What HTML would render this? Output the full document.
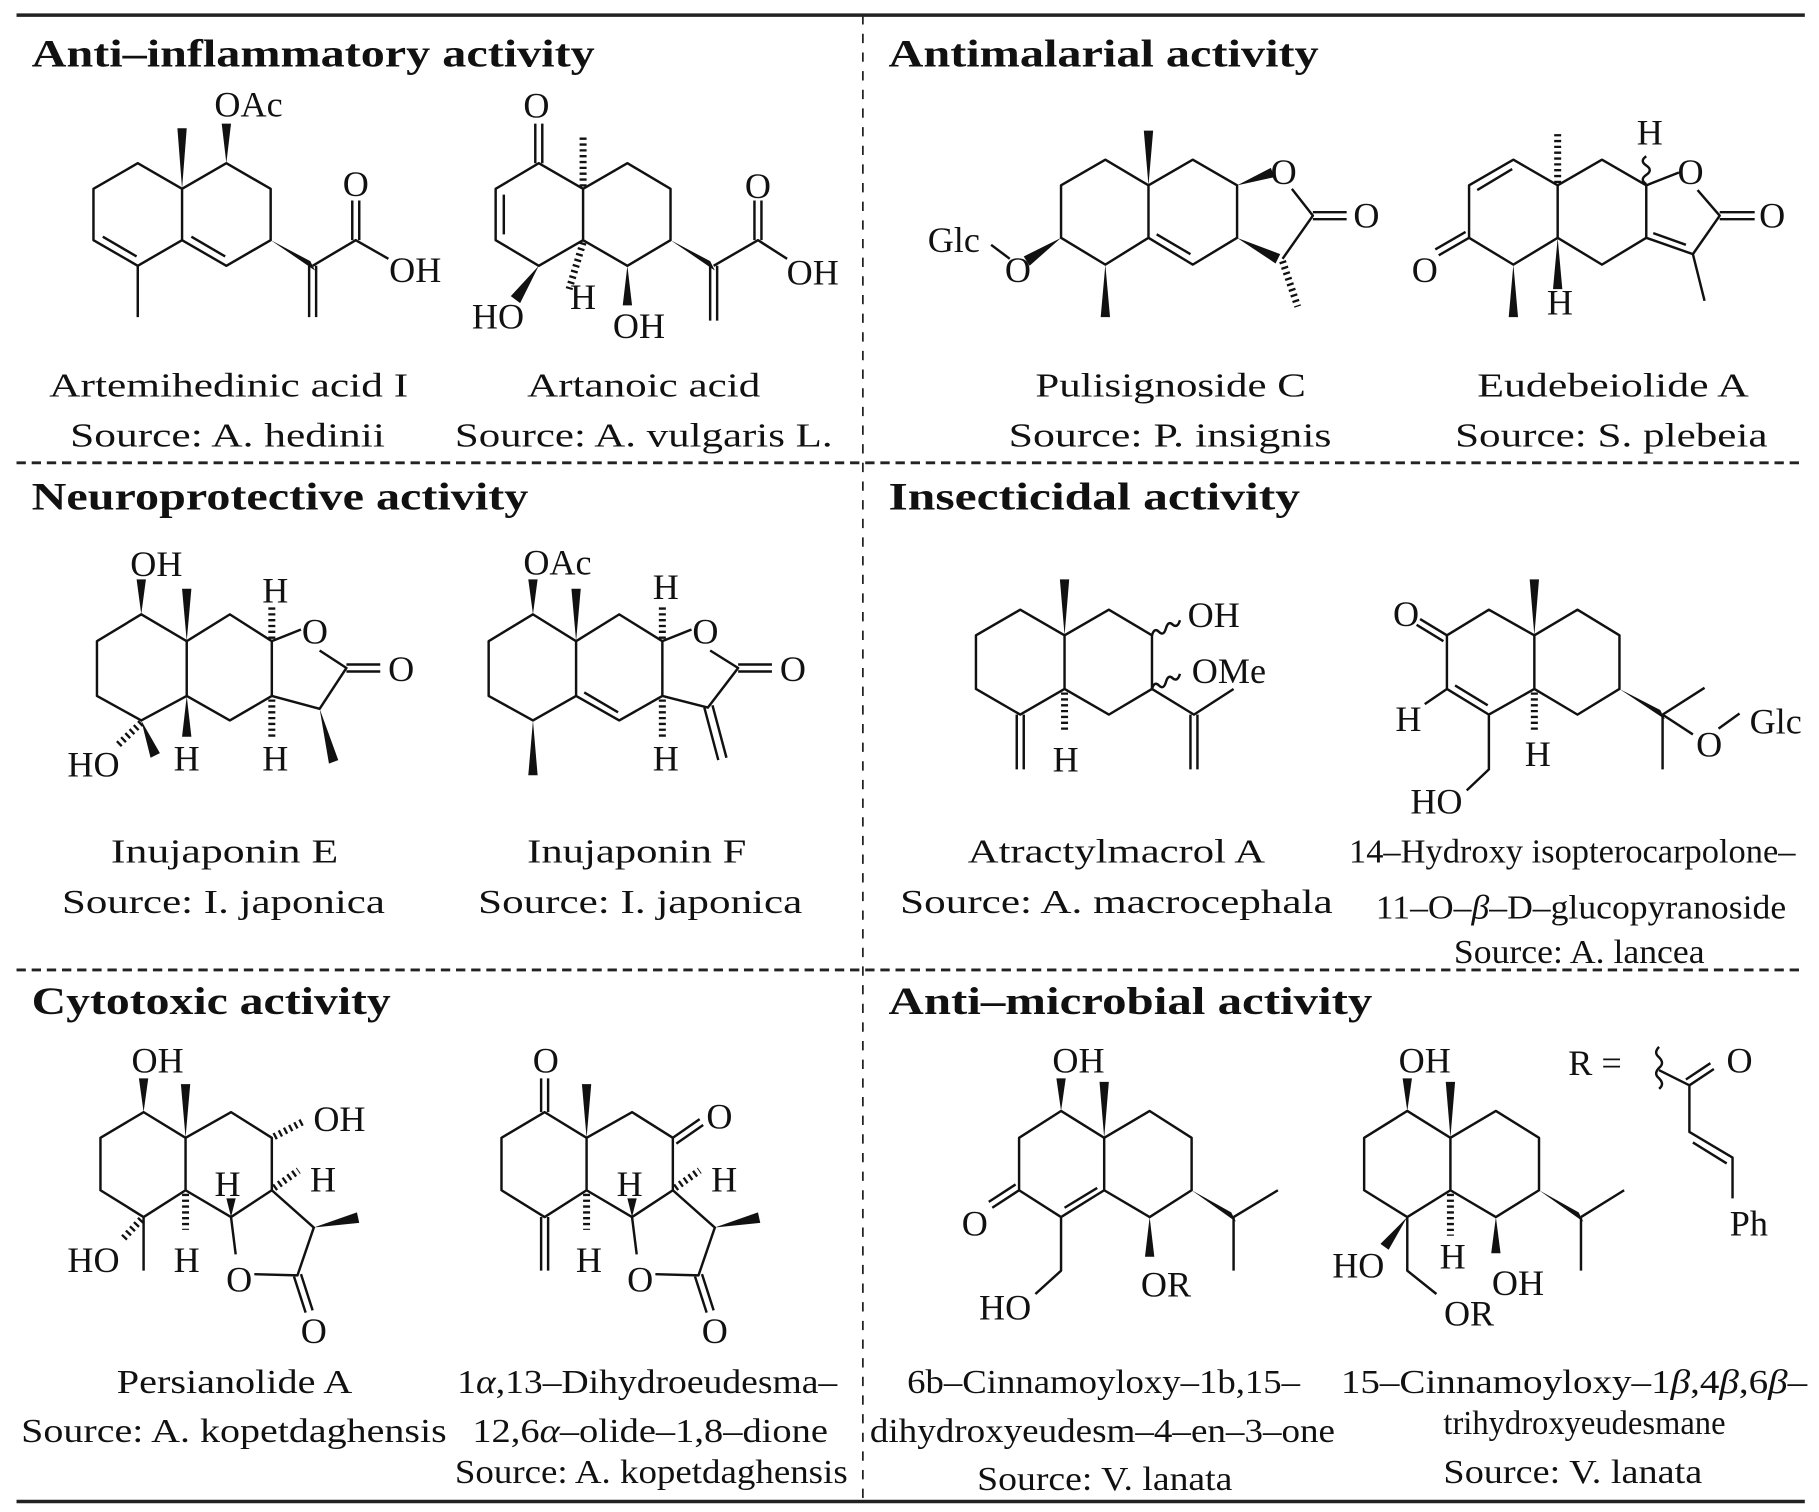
<!DOCTYPE html>
<html><head><meta charset="utf-8"><style>
html,body{margin:0;padding:0;background:#fff;}
svg{display:block;}
text{font-family:"Liberation Serif",serif;fill:#111;}
.t{font-size:34px;font-weight:bold;}
.n{font-size:29px;}
.a{font-size:31px;text-anchor:middle;}
.b{fill:none;stroke:#111;stroke-width:2.1;stroke-linejoin:round;}
.w{fill:#111;stroke:none;}
.h{fill:none;stroke:#111;stroke-width:6;stroke-dasharray:2,3;}
</style></head><body>
<svg width="1819" height="1512" viewBox="0 0 1560 1297" xmlns="http://www.w3.org/2000/svg">
<line x1="14" y1="13" x2="1548" y2="13" stroke="#222" stroke-width="3"/>
<line x1="14" y1="1288" x2="1548" y2="1288" stroke="#222" stroke-width="3"/>
<line x1="14" y1="397" x2="1548" y2="397" stroke="#222" stroke-width="2.5" stroke-dasharray="8,5"/>
<line x1="14" y1="832" x2="1548" y2="832" stroke="#222" stroke-width="2.5" stroke-dasharray="8,5"/>
<line x1="740" y1="13" x2="740" y2="1288" stroke="#222" stroke-width="1.5" stroke-dasharray="8,8"/>

<text class="t" x="27" y="57" textLength="483" lengthAdjust="spacingAndGlyphs">Anti–inflammatory activity</text>
<text class="t" x="762" y="57" textLength="369" lengthAdjust="spacingAndGlyphs">Antimalarial activity</text>
<text class="t" x="27" y="437" textLength="426" lengthAdjust="spacingAndGlyphs">Neuroprotective activity</text>
<text class="t" x="762" y="437" textLength="353" lengthAdjust="spacingAndGlyphs">Insecticidal activity</text>
<text class="t" x="27" y="870" textLength="308" lengthAdjust="spacingAndGlyphs">Cytotoxic activity</text>
<text class="t" x="762" y="870" textLength="415" lengthAdjust="spacingAndGlyphs">Anti–microbial activity</text>

<g class="n">
<text x="42" y="340" textLength="308" lengthAdjust="spacingAndGlyphs">Artemihedinic acid I</text>
<text x="60" y="383" textLength="270" lengthAdjust="spacingAndGlyphs">Source: A. hedinii</text>
<text x="452" y="340" textLength="200" lengthAdjust="spacingAndGlyphs">Artanoic acid</text>
<text x="390" y="383" textLength="324" lengthAdjust="spacingAndGlyphs">Source: A. vulgaris L.</text>
<text x="888" y="340" textLength="232" lengthAdjust="spacingAndGlyphs">Pulisignoside C</text>
<text x="865" y="383" textLength="277" lengthAdjust="spacingAndGlyphs">Source: P. insignis</text>
<text x="1267" y="340" textLength="233" lengthAdjust="spacingAndGlyphs">Eudebeiolide A</text>
<text x="1248" y="383" textLength="268" lengthAdjust="spacingAndGlyphs">Source: S. plebeia</text>

<text x="95" y="740" textLength="195" lengthAdjust="spacingAndGlyphs">Inujaponin E</text>
<text x="53" y="783" textLength="277" lengthAdjust="spacingAndGlyphs">Source: I. japonica</text>
<text x="452" y="740" textLength="188" lengthAdjust="spacingAndGlyphs">Inujaponin F</text>
<text x="410" y="783" textLength="278" lengthAdjust="spacingAndGlyphs">Source: I. japonica</text>
<text x="830" y="740" textLength="255" lengthAdjust="spacingAndGlyphs">Atractylmacrol A</text>
<text x="772" y="783" textLength="371" lengthAdjust="spacingAndGlyphs">Source: A. macrocephala</text>
<text x="1157" y="740" textLength="383" lengthAdjust="spacingAndGlyphs">14–Hydroxy isopterocarpolone–</text>
<text x="1180" y="788" textLength="352" lengthAdjust="spacingAndGlyphs">11–O–<tspan font-style="italic">β</tspan>–D–glucopyranoside</text>
<text x="1247" y="826" textLength="215" lengthAdjust="spacingAndGlyphs">Source: A. lancea</text>

<text x="100" y="1195" textLength="202" lengthAdjust="spacingAndGlyphs">Persianolide A</text>
<text x="18" y="1237" textLength="365" lengthAdjust="spacingAndGlyphs">Source: A. kopetdaghensis</text>
<text x="392" y="1195" textLength="326" lengthAdjust="spacingAndGlyphs">1<tspan font-style="italic">α</tspan>,13–Dihydroeudesma–</text>
<text x="405" y="1237" textLength="305" lengthAdjust="spacingAndGlyphs">12,6<tspan font-style="italic">α</tspan>–olide–1,8–dione</text>
<text x="390" y="1272" textLength="337" lengthAdjust="spacingAndGlyphs">Source: A. kopetdaghensis</text>
<text x="778" y="1195" textLength="337" lengthAdjust="spacingAndGlyphs">6b–Cinnamoyloxy–1b,15–</text>
<text x="746" y="1237" textLength="399" lengthAdjust="spacingAndGlyphs">dihydroxyeudesm–4–en–3–one</text>
<text x="838" y="1278" textLength="219" lengthAdjust="spacingAndGlyphs">Source: V. lanata</text>
<text x="1150" y="1195" textLength="400" lengthAdjust="spacingAndGlyphs">15–Cinnamoyloxy–1<tspan font-style="italic">β</tspan>,4<tspan font-style="italic">β</tspan>,6<tspan font-style="italic">β</tspan>–</text>
<text x="1238" y="1230" textLength="242" lengthAdjust="spacingAndGlyphs">trihydroxyeudesmane</text>
<text x="1238" y="1272" textLength="222" lengthAdjust="spacingAndGlyphs">Source: V. lanata</text>
</g>

<path class="b" d="M118,140 L80,162 L80,206 L118,228 L156,206 L156,162 Z M156,162 L194,140 L232,162 L232,206 L194,228 L156,206 M118,228 L118,272 M88,203 L117,220 M164,203 L193,220 M268,228 L305,206 L333,222 M302,206 L302,172 M308,206 L308,172 M265,228 L265,272 M271,228 L271,272"/>
<polygon class="w" points="232,206 266,224 270,232"/>
<polygon class="w" points="156,162 152,110 160,110"/>
<polygon class="w" points="194,140 190,106 198,106"/>
<g class="a"><text x="213" y="100">OAc</text><text x="305" y="168">O</text><text x="356" y="242">OH</text></g>

<path class="b" d="M462,140 L425,162 L425,206 L462,228 L500,206 L500,162 Z M500,162 L538,140 L575,162 L575,206 L538,228 L500,206 M432,167 L432,201 M459,140 L459,106 M465,140 L465,106 M612,228 L650,206 L675,222 M647,206 L647,172 M653,206 L653,172 M609,228 L609,275 M615,228 L615,275"/>
<line class="h" x1="500" y1="160" x2="500" y2="115"/>
<line class="h" x1="500" y1="208" x2="488" y2="248"/>
<polygon class="w" points="462,228 438,254 446,260"/>
<polygon class="w" points="538,228 534,262 542,262"/>
<polygon class="w" points="575,206 609,224 613,232"/>
<g class="a"><text x="460" y="101">O</text><text x="427" y="282">HO</text><text x="500" y="265">H</text><text x="548" y="290">OH</text><text x="650" y="170">O</text><text x="697" y="244">OH</text></g>

<path class="b" d="M948,137 L910,159 L910,204 L948,227 L985,204 L985,159 Z M985,159 L1023,137 L1061,159 L1061,204 L1023,227 L985,204 M992,201 L1021,218 M1108,162 L1126,185 L1100,222 M1126,182 L1155,182 M1126,188 L1155,188 M866,222 L850,210"/>
<polygon class="w" points="985,159 981,112 989,112"/>
<polygon class="w" points="1061,159 1090,144 1093,152"/>
<polygon class="w" points="1061,204 1098,218 1094,226"/>
<polygon class="w" points="910,204 878,220 883,228"/>
<polygon class="w" points="948,227 944,272 952,272"/>
<line class="h" x1="1100" y1="224" x2="1113" y2="263"/>
<g class="a"><text x="1101" y="158">O</text><text x="1172" y="195">O</text><text x="873" y="242">O</text><text x="818" y="216">Glc</text></g>

<path class="b" d="M1298,137 L1260,159 L1260,204 L1298,227 L1336,204 L1336,159 Z M1336,159 L1374,137 L1412,159 L1412,204 L1374,227 L1336,204 M1267,163 L1297,145 M1412,159 L1440,148 M1456,163 L1475,185 L1452,218 L1412,204 M1475,182 L1505,182 M1475,188 L1505,188 M1418,200 L1446,210 M1260,204 L1234,219 M1257,199 L1231,214 M1452,218 L1462,258"/>
<path class="b" d="M1412,158 q-6,-4 0,-8 q6,-4 0,-8 q-6,-4 0,-8"/>
<line class="h" x1="1336" y1="157" x2="1336" y2="112"/>
<polygon class="w" points="1298,227 1294,272 1302,272"/>
<polygon class="w" points="1336,204 1332,248 1340,248"/>
<g class="a"><text x="1415" y="124">H</text><text x="1450" y="158">O</text><text x="1520" y="195">O</text><text x="1222" y="242">O</text><text x="1338" y="270">H</text></g>

<path class="b" d="M121,527 L83,550 L83,597 L121,618 L160,597 L160,550 Z M160,550 L197,527 L233,550 L233,597 L197,618 L160,597 M233,550 L258,540 M274,558 L297,573 L274,608 L233,597 M297,570 L326,570 M297,576 L326,576"/>
<line class="h" x1="233" y1="548" x2="233" y2="518"/>
<line class="h" x1="233" y1="600" x2="233" y2="632"/>
<line class="h" x1="121" y1="620" x2="100" y2="640"/>
<polygon class="w" points="274,608 282,655 290,652"/>
<polygon class="w" points="160,550 156,505 164,505"/>
<polygon class="w" points="160,597 156,632 164,632"/>
<polygon class="w" points="121,527 117,497 125,497"/>
<polygon class="w" points="121,618 129,650 137,646"/>
<g class="a"><text x="270" y="552">O</text><text x="344" y="584">O</text><text x="236" y="517">H</text><text x="236" y="661">H</text><text x="160" y="661">H</text><text x="134" y="494">OH</text><text x="80" y="666">HO</text></g>

<path class="b" d="M457,527 L419,550 L419,597 L457,618 L494,597 L494,550 Z M494,550 L531,527 L568,550 L568,597 L531,618 L494,597 M501,594 L530,611 M568,550 L593,540 M609,558 L633,573 L607,607 L568,597 M633,570 L662,570 M633,576 L662,576 M604,607 L616,652 M611,605 L623,650"/>
<line class="h" x1="568" y1="548" x2="568" y2="518"/>
<line class="h" x1="568" y1="600" x2="568" y2="632"/>
<polygon class="w" points="494,550 490,505 498,505"/>
<polygon class="w" points="457,618 453,665 461,665"/>
<polygon class="w" points="457,527 453,497 461,497"/>
<g class="a"><text x="605" y="552">O</text><text x="680" y="584">O</text><text x="571" y="514">H</text><text x="571" y="661">H</text><text x="478" y="493">OAc</text></g>

<path class="b" d="M875,523 L837,545 L837,591 L875,613 L913,591 L913,545 Z M913,545 L951,523 L988,545 L988,591 L951,613 L913,591 M988,591 L1024,613 L1058,591 M1021,613 L1021,660 M1027,613 L1027,660 M872,613 L872,660 M878,613 L878,660"/>
<path class="b" d="M988,545 q2,-7 6,-3 q4,4 6,-3 q2,-7 6,-3 q4,3 6,-4"/>
<path class="b" d="M988,591 q2,-7 6,-3 q4,4 6,-3 q2,-7 6,-3 q4,3 6,-4"/>
<polygon class="w" points="913,545 909,497 917,497"/>
<line class="h" x1="913" y1="594" x2="913" y2="628"/>
<g class="a"><text x="1041" y="538">OH</text><text x="1054" y="586">OMe</text><text x="914" y="662">H</text></g>

<path class="b" d="M1277,523 L1241,545 L1241,591 L1277,613 L1316,591 L1316,545 Z M1316,545 L1353,523 L1389,545 L1389,591 L1353,613 L1316,591 M1248,588 L1276,605 M1241,545 L1218,531 M1238,550 L1215,536 M1241,591 L1222,604 M1277,613 L1277,660 L1258,678 M1426,613 L1462,590 M1426,613 L1426,660 M1426,613 L1452,630 M1474,625 L1492,612"/>
<line class="h" x1="1316" y1="594" x2="1316" y2="628"/>
<polygon class="w" points="1316,545 1312,497 1320,497"/>
<polygon class="w" points="1389,591 1424,609 1428,617"/>
<g class="a"><text x="1206" y="537">O</text><text x="1208" y="627">H</text><text x="1232" y="698">HO</text><text x="1319" y="657">H</text><text x="1466" y="649">O</text><text x="1523" y="629">Glc</text></g>

<path class="b" d="M123,954 L86,976 L86,1021 L123,1044 L159,1021 L159,976 Z M159,976 L198,954 L233,976 L233,1021 L198,1044 L159,1021 M198,1044 L202,1076 M218,1093 L255,1094 L269,1053 L233,1021 M252,1095 L262,1126 M258,1093 L268,1124 M123,1044 L123,1090"/>
<polygon class="w" points="269,1053 306,1040 308,1049"/>
<line class="h" x1="235" y1="1019" x2="256" y2="1004"/>
<line class="h" x1="235" y1="975" x2="260" y2="962"/>
<polygon class="w" points="198,1044 194,1028 202,1028"/>
<line class="h" x1="159" y1="1024" x2="159" y2="1055"/>
<polygon class="w" points="123,954 119,925 127,925"/>
<polygon class="w" points="159,976 155,930 163,930"/>
<line class="h" x1="121" y1="1046" x2="104" y2="1064"/>
<g class="a"><text x="205" y="1108">O</text><text x="269" y="1152">O</text><text x="277" y="1022">H</text><text x="291" y="970">OH</text><text x="195" y="1026">H</text><text x="160" y="1091">H</text><text x="135" y="920">OH</text><text x="80" y="1091">HO</text></g>

<path class="b" d="M467,954 L430,976 L430,1021 L467,1044 L503,1021 L503,976 Z M503,976 L542,954 L577,976 L577,1021 L542,1044 L503,1021 M542,1044 L546,1076 M562,1093 L599,1094 L613,1053 L577,1021 M596,1095 L606,1126 M602,1093 L612,1124 M464,954 L464,925 M470,954 L470,925 M464,1044 L464,1090 M470,1044 L470,1090 M577,976 L600,960 M580,981 L603,965"/>
<polygon class="w" points="613,1053 650,1040 652,1049"/>
<line class="h" x1="579" y1="1019" x2="600" y2="1004"/>
<polygon class="w" points="542,1044 538,1028 546,1028"/>
<line class="h" x1="503" y1="1024" x2="503" y2="1055"/>
<polygon class="w" points="503,976 499,930 507,930"/>
<g class="a"><text x="549" y="1108">O</text><text x="613" y="1152">O</text><text x="621" y="1022">H</text><text x="617" y="968">O</text><text x="540" y="1026">H</text><text x="505" y="1091">H</text><text x="468" y="920">O</text></g>

<path class="b" d="M910,953 L874,976 L874,1021 L910,1044 L947,1021 L947,976 Z M947,976 L986,953 L1022,976 L1022,1021 L986,1044 L947,1021 M913,1036 L941,1019 M874,1021 L851,1036 M871,1016 L848,1031 M910,1044 L910,1090 L888,1110 M1058,1044 L1096,1021 M1058,1044 L1058,1090"/>
<polygon class="w" points="986,1044 982,1078 990,1078"/>
<polygon class="w" points="1022,1021 1056,1040 1060,1048"/>
<polygon class="w" points="910,953 906,925 914,925"/>
<polygon class="w" points="947,976 943,928 951,928"/>
<g class="a"><text x="836" y="1060">O</text><text x="862" y="1132">HO</text><text x="1000" y="1112">OR</text><text x="925" y="920">OH</text></g>

<path class="b" d="M1207,953 L1170,976 L1170,1021 L1207,1044 L1244,1021 L1244,976 Z M1244,976 L1283,953 L1320,976 L1320,1021 L1283,1044 L1244,1021 M1207,1044 L1207,1090 L1232,1110 M1356,1044 L1393,1021 M1356,1044 L1356,1090"/>
<polygon class="w" points="1207,1044 1184,1067 1191,1072"/>
<line class="h" x1="1244" y1="1024" x2="1244" y2="1060"/>
<polygon class="w" points="1283,1044 1279,1075 1287,1075"/>
<polygon class="w" points="1320,1021 1354,1040 1358,1048"/>
<polygon class="w" points="1207,953 1203,925 1211,925"/>
<polygon class="w" points="1244,976 1240,928 1248,928"/>
<g class="a"><text x="1165" y="1096">HO</text><text x="1246" y="1088">H</text><text x="1260" y="1137">OR</text><text x="1302" y="1111">OH</text><text x="1222" y="920">OH</text></g>

<path class="b" d="M1423,918 L1449,931 L1449,971 L1486,993 L1486,1028 M1449,931 L1470,917 M1446,926 L1467,912 M1452,980 L1481,998"/>
<path class="b" d="M1423,898 q-5,5 0,9 q5,5 0,9 q-5,5 0,9 q5,5 0,9"/>
<g class="a"><text x="1368" y="922">R =</text><text x="1492" y="920">O</text><text x="1500" y="1060">Ph</text></g>
</svg>
</body></html>
